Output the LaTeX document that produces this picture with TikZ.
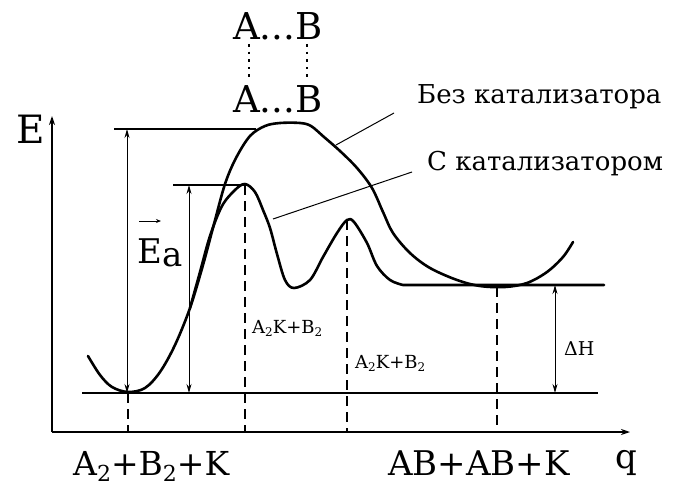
\documentclass[tikz,border=0pt]{standalone}
\usepackage{fontspec}
\setmainfont{DejaVu Serif}
\usetikzlibrary{arrows.meta}
\newcommand{\lowsub}[1]{\raisebox{-6pt}{\fontsize{22}{22}\selectfont #1}}
\newcommand{\smallsub}[1]{\raisebox{-3pt}{\fontsize{12}{12}\selectfont #1}}

\begin{document}
\begin{tikzpicture}[x=1pt, y=-1pt,
  curve/.style={line width=2.6pt, line join=round, line cap=round},
  axis/.style={line width=1.3pt, -{Stealth[length=9pt,width=6pt]}},
  level/.style={line width=1.2pt},
  gap/.style={line width=1pt, {Stealth[length=9pt,width=5pt]}-{Stealth[length=9pt,width=5pt]}},
  drop/.style={line width=1.2pt, dash pattern=on 10pt off 6pt},
  pointer/.style={line width=1pt},
  dots/.style={line width=2.6pt, dash pattern=on 2.6pt off 5pt},
  lbl/.style={inner sep=0pt, anchor=base west}]
\useasboundingbox (0,0) rectangle (679,487);
\fill[white] (0,0) rectangle (679,487);

\coordinate (origin) at (52,432);
\coordinate (etop) at (52,116);
\coordinate (qend) at (630,432);
\draw[axis] (origin) -- (etop);
\draw[axis] (origin) -- (qend);
\node[lbl, font=\fontsize{39}{39}\selectfont] (elabel) at (16,143) {E};
\node[lbl, font=\fontsize{34}{34}\selectfont] (qlabel) at (615,468) {q};

\node[lbl, font=\fontsize{37}{37}\selectfont] (abtop) at (233,40) {A...B};
\node[lbl, font=\fontsize{37}{37}\selectfont] (abbot) at (233,112) {A...B};
\coordinate (da1) at (249,44);
\coordinate (da2) at (249,78);
\coordinate (db1) at (307,44);
\coordinate (db2) at (307,78);
\draw[dots] (da1) -- (da2);
\draw[dots] (db1) -- (db2);

\coordinate (top1) at (114,129);
\coordinate (top2) at (256,129);
\coordinate (cat1) at (173,185);
\coordinate (cat2) at (245,185);
\coordinate (base1) at (82,393);
\coordinate (base2) at (598,393);
\coordinate (fin1) at (402,285);
\coordinate (fin2) at (604,285);
\draw[level] (top1) -- (top2);
\draw[level] (cat1) -- (cat2);
\draw[level] (base1) -- (base2);

\draw[gap] (127,129) -- (127,393);
\draw[gap] (189,185) -- (189,393);
\draw[gap] (555,285) -- (555,393);

\draw[drop] (128,393) -- (128,432);
\draw[drop] (245,185) -- (245,432);
\draw[drop] (347,220) -- (347,432);
\draw[drop] (497,287) -- (497,432);

\draw[curve] plot[smooth, tension=0.55] coordinates {(88,356) (100,375) (112,387) (128,392) (145,388) (160,372) (175,345) (190,308) (203,265) (214,224) (225,184) (236,158) (250,136) (265,126) (280,123) (300,123) (311,126) (324,137) (340,151) (357,168) (372,188) (383,212) (393,233) (410,253) (430,268) (457,280) (480,286) (505,287) (527,283) (547,272) (563,257) (573,242)};
\draw[curve] plot[smooth, tension=0.55] coordinates {(190,308) (200,272) (210,236) (222,206) (235,190) (245,184) (255,192) (263,210) (270,228) (277,254) (285,280) (294,288) (310,280) (323,257) (337,233) (347,220) (354,222) (367,243) (377,266) (390,280) (403,285)} -- (fin2);

\coordinate (nocatend) at (336,145);
\coordinate (catend) at (273,219);
\node[lbl, font=\fontsize{26}{26}\selectfont] (nocatlbl) at (417,103) {Без катализатора};
\node[lbl, font=\fontsize{26}{26}\selectfont] (catlbl) at (427,170) {С катализатором};
\draw[pointer] (394,113) -- (nocatend);
\draw[pointer] (412,172) -- (catend);

\node[lbl, font=\fontsize{34}{34}\selectfont] (ea) at (137,263) {E\raisebox{-3pt}{a}};
\draw[line width=0.9pt, -{Stealth[length=5pt,width=4pt]}] ([xshift=2pt, yshift=17pt]ea.north west) -- ([xshift=24pt, yshift=17pt]ea.north west);

\node[lbl, font=\fontsize{18}{18}\selectfont] (inter1) at (252,333) {A\smallsub{2}K+B\smallsub{2}};
\node[lbl, font=\fontsize{18}{18}\selectfont] (inter2) at (355,368) {A\smallsub{2}K+B\smallsub{2}};
\node[lbl, font=\fontsize{19}{19}\selectfont] (dh) at (564,355) {ΔH};

\node[lbl, font=\fontsize{33}{33}\selectfont] (start) at (73,475) {A\lowsub{2}+B\lowsub{2}+K};
\node[lbl, font=\fontsize{34}{34}\selectfont] (final) at (388,475) {AB+AB+K};
\end{tikzpicture}
\end{document}
